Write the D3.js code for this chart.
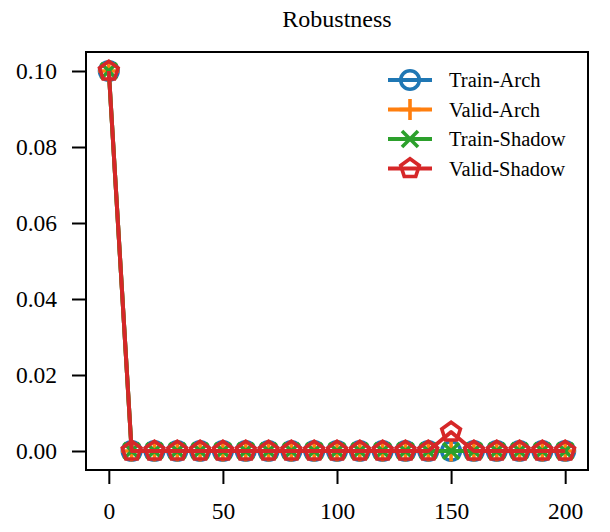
<!DOCTYPE html>
<html><head><meta charset="utf-8">
<script src="https://cdn.jsdelivr.net/npm/d3@7"></script>
<style>body{margin:0;background:#fff}</style>
</head><body>
<script>
const xs = [0,10,20,30,40,50,60,70,80,90,100,110,120,130,140,150,160,170,180,190,200];
const trainArch  = [0.1,0,0,0,0,0,0,0,0,0,0,0,0,0,0,0,0,0,0,0,0];
const validArch  = [0.1,0,0,0,0,0,0,0,0,0,0,0,0,0,0,0,0,0,0,0,0];
const trainShadow= [0.1,0,0,0,0,0,0,0,0,0,0,0,0,0,0,0,0,0,0,0,0];
const validShadow= [0.1,0,0,0,0,0,0,0,0,0,0,0,0,0,0,0.005,0,0,0,0,0];
const seriesNames = ["Train-Arch","Valid-Arch","Train-Shadow","Valid-Shadow"];
const colors = ["#1f77b4","#ff7f0e","#2ca02c","#d62728"];
const markers = ["circle","plus","cross","pentagon"];
const xTicks = [0,50,100,150,200];
const yTicks = [0,0.02,0.04,0.06,0.08,0.10];
const title = "Robustness";

const W=610,H=532;
const m={l:86,r:22,t:52,b:62};
const svg=d3.select("body").append("svg").attr("width",W).attr("height",H);
const font="'Liberation Serif','Times New Roman',serif";
const x=d3.scaleLinear().domain([-10,210]).range([m.l,W-m.r]);
const y=d3.scaleLinear().domain([-0.005,0.105]).range([H-m.b,m.t]);

const data=[trainArch,validArch,trainShadow,validShadow];

function drawMarker(g,type,color,cx,cy){
  const sw=3.6;
  if(type==="circle"){
    g.append("circle").attr("cx",cx).attr("cy",cy).attr("r",9.3).attr("fill","none").attr("stroke",color).attr("stroke-width",sw);
  } else if(type==="plus"){
    const s=10.5;
    g.append("path").attr("d",`M${cx-s},${cy}H${cx+s}M${cx},${cy-s}V${cy+s}`).attr("stroke",color).attr("stroke-width",sw).attr("fill","none");
  } else if(type==="cross"){
    const s=8;
    g.append("path").attr("d",`M${cx-s},${cy-s}L${cx+s},${cy+s}M${cx-s},${cy+s}L${cx+s},${cy-s}`).attr("stroke",color).attr("stroke-width",sw).attr("fill","none");
  } else {
    const r=9.8;
    const pts=d3.range(5).map(i=>{const a=-Math.PI/2+i*2*Math.PI/5;return [cx+r*Math.cos(a),cy+r*Math.sin(a)];});
    g.append("polygon").attr("points",pts.map(p=>p.join(",")).join(" ")).attr("fill","none").attr("stroke",color).attr("stroke-width",sw).attr("stroke-linejoin","miter");
  }
}

const plot=svg.append("g");
data.forEach((vals,i)=>{
  const g=plot.append("g");
  const line=d3.line().x((d,j)=>x(xs[j])).y(d=>y(d));
  g.append("path").datum(vals).attr("d",line).attr("fill","none").attr("stroke",colors[i]).attr("stroke-width",4).attr("stroke-linejoin","round");
  vals.forEach((v,j)=>drawMarker(g,markers[i],colors[i],x(xs[j]),y(v)));
});

// frame
svg.append("rect").attr("x",m.l).attr("y",m.t).attr("width",W-m.r-m.l).attr("height",H-m.b-m.t).attr("fill","none").attr("stroke","#000").attr("stroke-width",2);

const xa=svg.append("g").attr("transform",`translate(0,${H-m.b})`).call(d3.axisBottom(x).tickValues(xTicks).tickSize(14).tickPadding(18).tickFormat(d3.format("d")));
const ya=svg.append("g").attr("transform",`translate(${m.l},0)`).call(d3.axisLeft(y).tickValues(yTicks).tickSize(14).tickPadding(15).tickFormat(d3.format(".2f")));
[xa,ya].forEach(a=>{
  a.select(".domain").remove();
  a.selectAll(".tick line").attr("stroke","#000").attr("stroke-width",2);
  a.selectAll(".tick text").attr("font-family",font).attr("font-size",23.5).attr("fill","#000");
});

svg.append("text").attr("x",(m.l+W-m.r)/2).attr("y",27).attr("text-anchor","middle").attr("font-family",font).attr("font-size",24).attr("fill","#000").text(title);

// legend
const lg=svg.append("g");
seriesNames.forEach((n,i)=>{
  const yy=80+i*29.5;
  lg.append("line").attr("x1",388).attr("x2",432).attr("y1",yy).attr("y2",yy).attr("stroke",colors[i]).attr("stroke-width",4);
  drawMarker(lg,markers[i],colors[i],410,yy);
  lg.append("text").attr("x",449).attr("y",yy).attr("dy","0.35em").attr("font-family",font).attr("font-size",20.5).attr("fill","#000").text(n);
});
</script>
</body></html>
